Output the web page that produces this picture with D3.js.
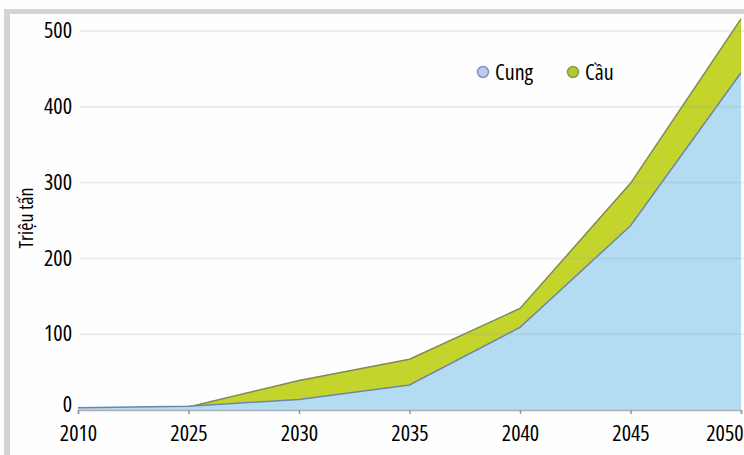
<!DOCTYPE html>
<html>
<head>
<meta charset="utf-8">
<script src="https://cdn.jsdelivr.net/npm/d3@7"></script>
<style>
  body { margin: 0; background: #fff; }
  svg { display: block; }
  text { font-family: "Open Sans", sans-serif; font-stretch: condensed; font-weight: 500; fill: #000; }
</style>
</head>
<body>
<script>
// Data
var years = ["2010", "2025", "2030", "2035", "2040", "2045", "2050"];
var cung = [3, 5, 14, 33, 109, 243, 445];   // supply
var cau  = [2, 4, 39, 67, 134, 299, 516];   // demand
var yTicks = [0, 100, 200, 300, 400, 500];

var W = 744, H = 455;
var margin = {top: 31, left: 78, right: 3, bottom: 45};

var svg = d3.select("body").append("svg")
  .attr("width", W)
  .attr("height", H);

svg.append("rect").attr("width", W).attr("height", H).attr("fill", "#fefefe");

// grey frame top + left
svg.append("rect").attr("x", 4).attr("y", 9).attr("width", W - 4).attr("height", 5).attr("fill", "#d4d4d4");
svg.append("rect").attr("x", 4).attr("y", 9).attr("width", 6).attr("height", H - 9).attr("fill", "#d4d4d4");

var x = d3.scalePoint().domain(years).range([margin.left, W - margin.right]);
var y = d3.scaleLinear().domain([0, 500]).range([H - margin.bottom, margin.top]);

var data = years.map(function(d, i) { return {year: d, cung: cung[i], cau: cau[i]}; });

// Demand area (drawn first, supply covers it)
var areaCau = d3.area()
  .x(function(d) { return x(d.year); })
  .y0(y(0))
  .y1(function(d) { return y(d.cau); });
var lineCau = d3.line()
  .x(function(d) { return x(d.year); })
  .y(function(d) { return y(d.cau); });

var areaCung = d3.area()
  .x(function(d) { return x(d.year); })
  .y0(y(0))
  .y1(function(d) { return y(d.cung); });
var lineCung = d3.line()
  .x(function(d) { return x(d.year); })
  .y(function(d) { return y(d.cung); });

svg.append("path").attr("d", areaCau(data)).attr("fill", "#c3d42c");
svg.append("path").attr("d", lineCau(data)).attr("fill", "none")
  .attr("stroke", "#7f8a52").attr("stroke-width", 1.5);

svg.append("path").attr("d", areaCung(data)).attr("fill", "#b3dcf3");
svg.append("path").attr("d", lineCung(data)).attr("fill", "none")
  .attr("stroke", "#6f86a6").attr("stroke-width", 1.5);

// Gridlines (on top, semi-transparent)
svg.append("g")
  .selectAll("line")
  .data(yTicks.filter(function(t) { return t > 0; }))
  .join("line")
    .attr("x1", margin.left + 2)
    .attr("x2", W)
    .attr("y1", function(d) { return y(d); })
    .attr("y2", function(d) { return y(d); })
    .attr("stroke", "#9aa0a6")
    .attr("stroke-opacity", 0.2)
    .attr("stroke-width", 2);

// Y axis labels
var yAxis = d3.axisLeft(y).tickValues(yTicks).tickSize(0).tickPadding(6);
var gy = svg.append("g")
  .attr("transform", "translate(" + margin.left + ",0)")
  .call(yAxis);
gy.select(".domain").remove();
gy.selectAll("text").style("font-size", "22px").attr("fill", "#000").attr("dy", "0.3em");
gy.selectAll(".tick:first-child text").attr("dy", "0.05em");

// X axis
var xAxis = d3.axisBottom(x).tickSize(4).tickPadding(11);
var gx = svg.append("g")
  .attr("transform", "translate(0," + y(0) + ")")
  .call(xAxis);
gx.select(".domain").attr("stroke", "#a9b0b8").attr("stroke-width", 1.5);
gx.selectAll(".tick line").attr("stroke", "#8a96a6").attr("stroke-width", 1.5);
gx.selectAll("text").style("font-size", "22px").attr("fill", "#000");
gx.selectAll(".tick:first-child text").attr("dx", "0.2em");
gx.selectAll(".tick:last-child text").attr("text-anchor", "end").attr("dx", "0.1em");

// Y title
svg.append("text")
  .attr("transform", "translate(33,218) rotate(-90)")
  .attr("text-anchor", "middle")
  .style("font-size", "20px")
  .text("Triệu tấn");

// Legend
var legend = [
  {name: "Cung", fill: "#bccbe8", stroke: "#7f95c0", cx: 483},
  {name: "Cầu", fill: "#b5c830", stroke: "#8a9a50", cx: 573}
];
var lg = svg.append("g").selectAll("g").data(legend).join("g");
lg.append("circle")
  .attr("cx", function(d) { return d.cx; })
  .attr("cy", 72)
  .attr("r", 5.5)
  .attr("fill", function(d) { return d.fill; })
  .attr("stroke", function(d) { return d.stroke; })
  .attr("stroke-width", 1.5);
lg.append("text")
  .attr("x", function(d) { return d.cx + 12; })
  .attr("y", 80)
  .style("font-size", "22px")
  .text(function(d) { return d.name; });
</script>
</body>
</html>
